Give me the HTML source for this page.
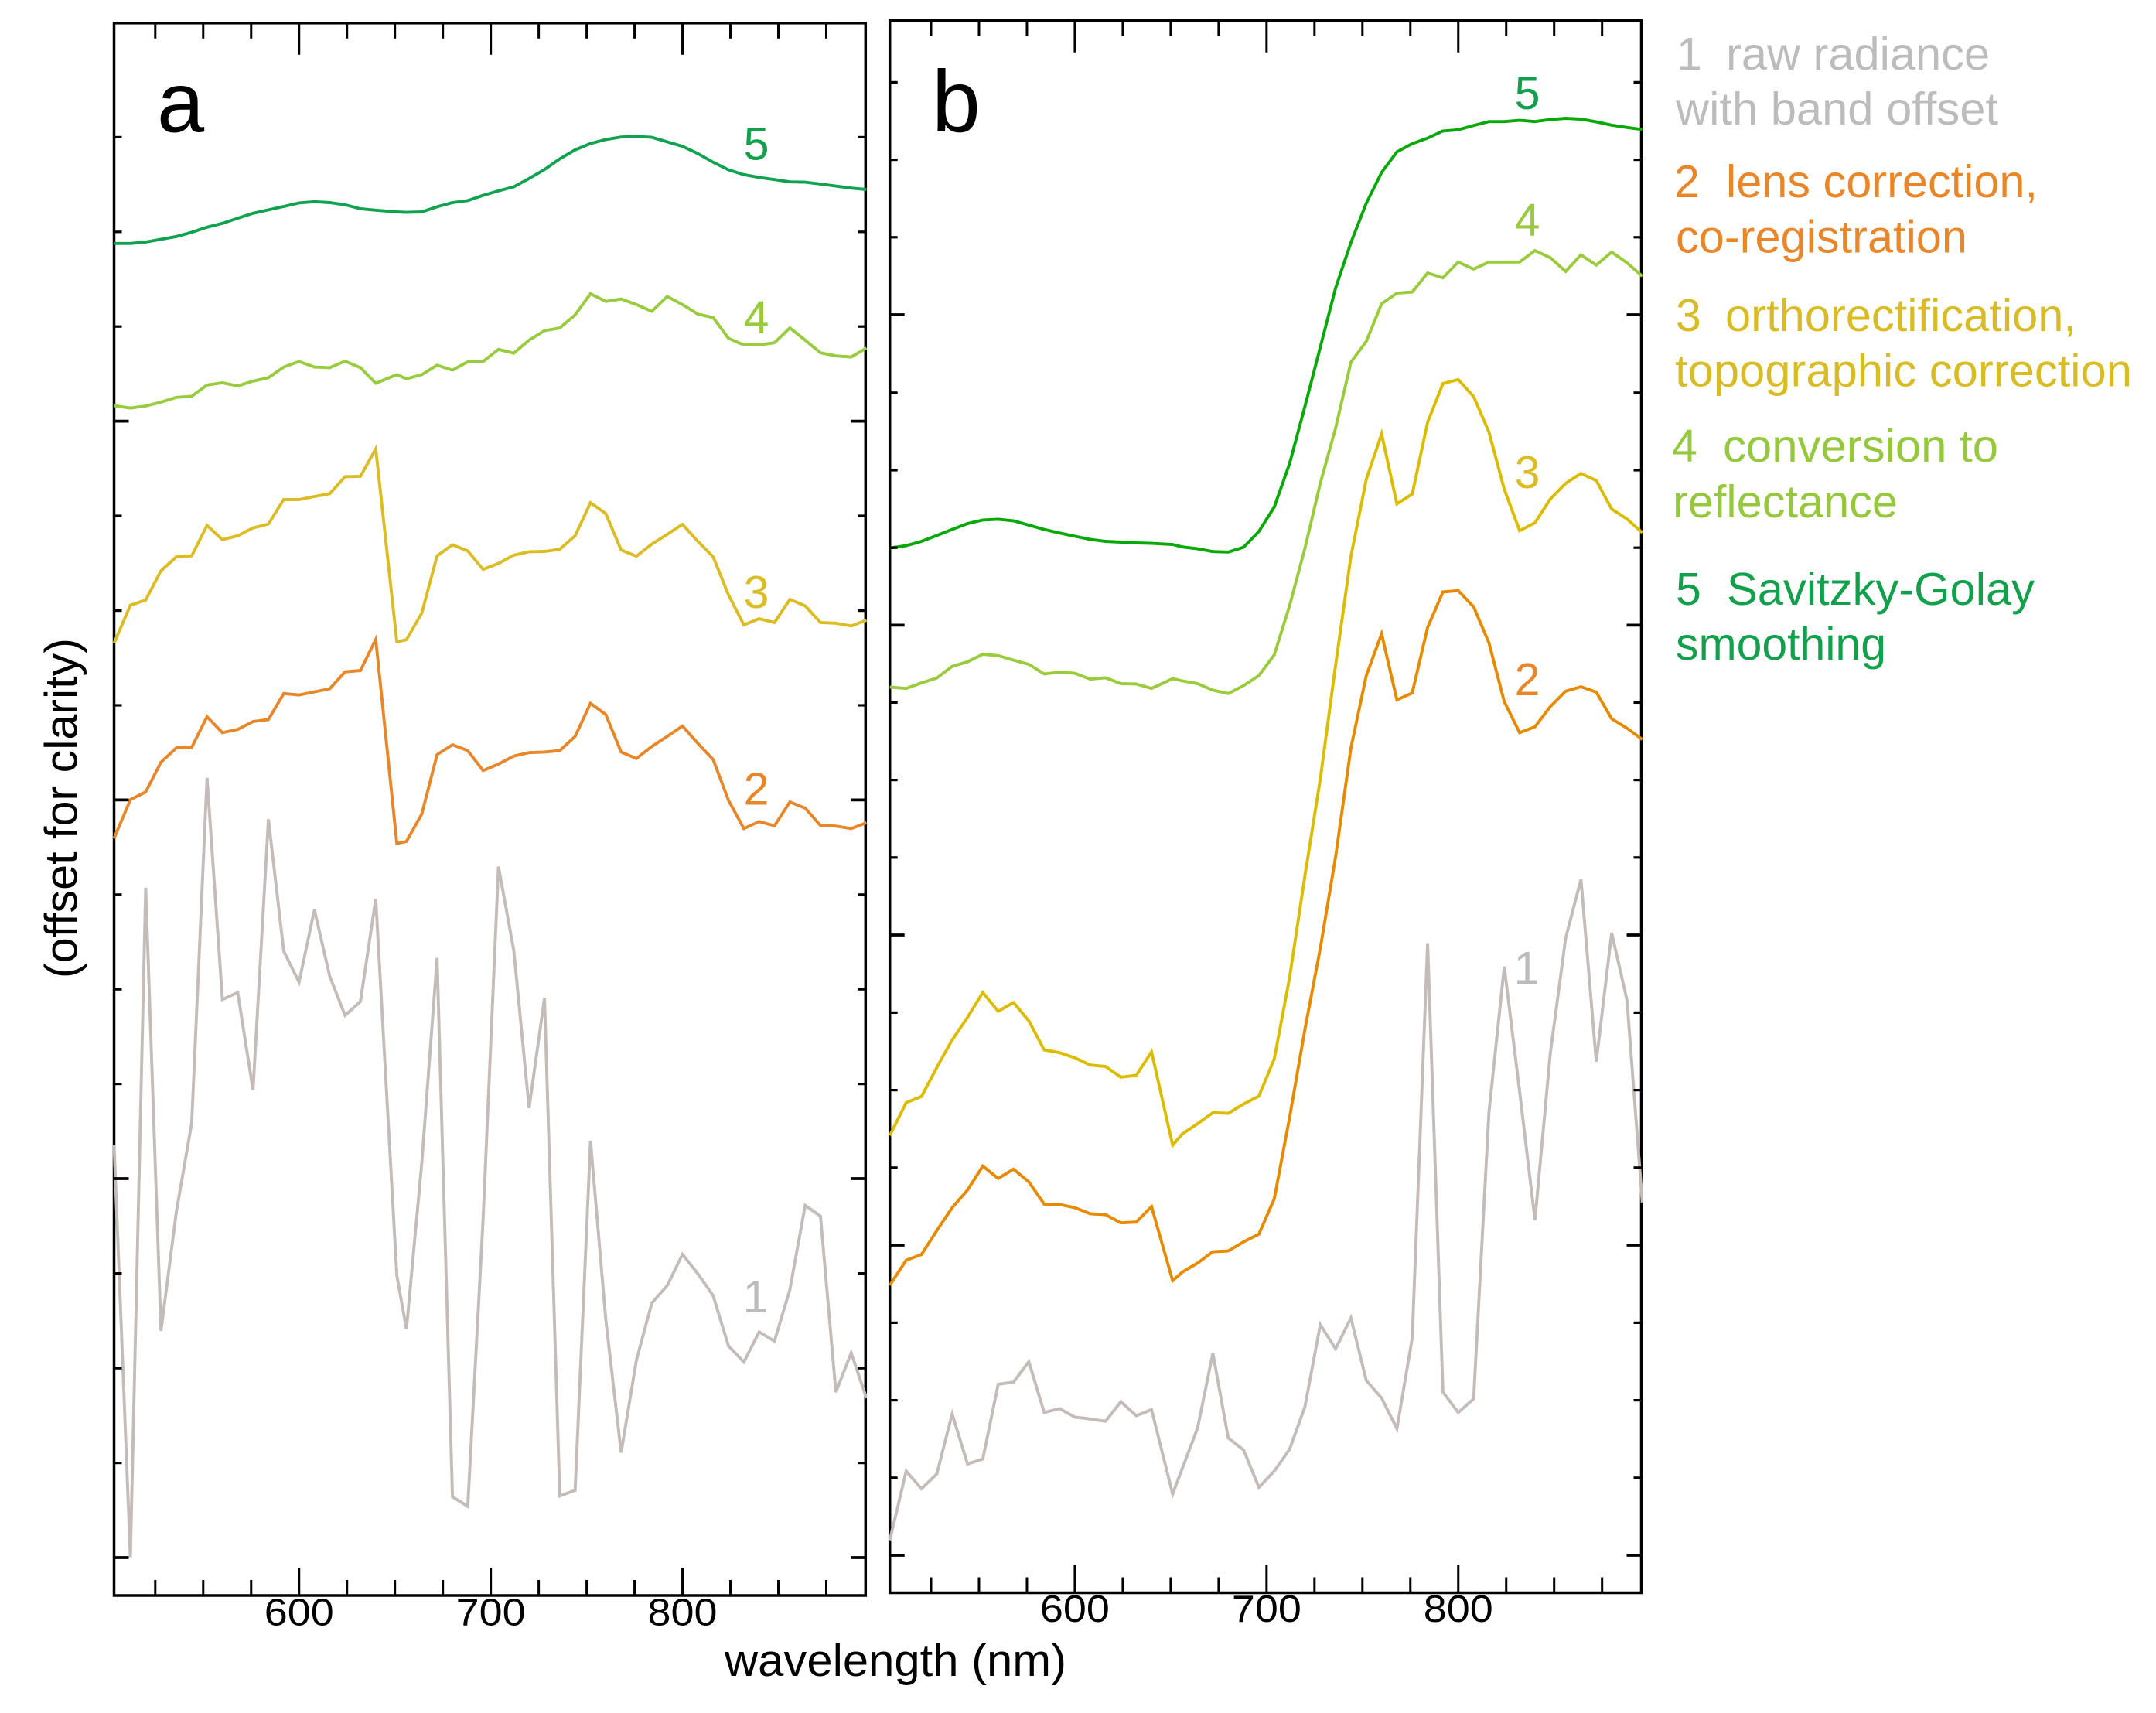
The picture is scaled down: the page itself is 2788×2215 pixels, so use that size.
<!DOCTYPE html>
<html lang="en">
<head>
<meta charset="utf-8">
<title>Spectra processing stages</title>
<style>
html,body{margin:0;padding:0;background:#fff;}
svg{display:block;}
text{font-family:"Liberation Sans",sans-serif;}
</style>
</head>
<body>
<svg id="chart" xmlns="http://www.w3.org/2000/svg" width="2788" height="2215" viewBox="0 0 2788 2215">
  <rect x="0" y="0" width="2788" height="2215" fill="#ffffff"/>
  <defs>
    <clipPath id="clip-a"><rect x="146" y="29.8" width="975" height="2033.2"/></clipPath>
    <clipPath id="clip-b"><rect x="1149" y="26.7" width="975" height="2032.8"/></clipPath>
  </defs>
  <g id="panel-a"></g>
  <g id="panel-b"></g>

  <text x="203" y="170.5" font-size="110" fill="#000">a</text>
  <text x="1205" y="170" font-size="113" fill="#000">b</text>

  <g font-size="59" text-anchor="middle">
    <text x="978" y="206.7" fill="#12a04c">5</text>
    <text x="978" y="431" fill="#98cb3e">4</text>
    <text x="978" y="786" fill="#dcbc24">3</text>
    <text x="978" y="1040.6" fill="#e8862a">2</text>
    <text x="977" y="1697" fill="#bcbcbc">1</text>
  </g>
  <g font-size="59" text-anchor="middle">
    <text x="1975" y="141" fill="#12a04c">5</text>
    <text x="1975" y="305" fill="#98cb3e">4</text>
    <text x="1975" y="631" fill="#dcbc24">3</text>
    <text x="1975" y="899" fill="#e8862a">2</text>
    <text x="1974" y="1272" fill="#bcbcbc">1</text>
  </g>

  <text x="937" y="2167" font-size="58" textLength="442" lengthAdjust="spacingAndGlyphs" fill="#000">wavelength (nm)</text>
  <text transform="translate(99.3 1265) rotate(-90)" x="0" y="0" font-size="59" textLength="440" lengthAdjust="spacingAndGlyphs" fill="#000">(offset for clarity)</text>

  <g font-size="59">
    <g fill="#bcbcbc">
      <text x="2168" y="90">1</text>
      <text x="2232" y="90" textLength="341" lengthAdjust="spacingAndGlyphs">raw radiance</text>
      <text x="2167" y="161" textLength="417" lengthAdjust="spacingAndGlyphs">with band offset</text>
    </g>
    <g fill="#e8862a">
      <text x="2165" y="255">2</text>
      <text x="2232" y="255" textLength="403" lengthAdjust="spacingAndGlyphs">lens correction,</text>
      <text x="2167" y="326.5" textLength="377" lengthAdjust="spacingAndGlyphs">co-registration</text>
    </g>
    <g fill="#d9bc25">
      <text x="2167" y="428">3</text>
      <text x="2231" y="428" textLength="454" lengthAdjust="spacingAndGlyphs">orthorectification,</text>
      <text x="2166" y="499.5" textLength="591" lengthAdjust="spacingAndGlyphs">topographic correction</text>
    </g>
    <g fill="#95c83d">
      <text x="2162" y="597">4</text>
      <text x="2228" y="597" textLength="356" lengthAdjust="spacingAndGlyphs">conversion to</text>
      <text x="2163" y="669" textLength="291" lengthAdjust="spacingAndGlyphs">reflectance</text>
    </g>
    <g fill="#12a04c">
      <text x="2167" y="782">5</text>
      <text x="2233" y="782" textLength="398" lengthAdjust="spacingAndGlyphs">Savitzky-Golay</text>
      <text x="2167" y="853" textLength="272" lengthAdjust="spacingAndGlyphs">smoothing</text>
    </g>
  </g>
</svg>
<script>
var wavelengths = [503.5,512,520,528,536,544,552,560,568,576,584,592,600,608,616,624,632,640,651,656,664,672,680,688,696,704,712,720,728,736,744,752,760,768,776,784,792,800,808,816,824,832,840,848,856,864,872,880,888,896];

var xMajorTicks = [600,700,800];
var xMinorTicks = [525,550,575,625,650,675,725,750,775,825,850,875];
var xTickLabels = ["600","700","800"];

var yMajorTicksA = [75.92,51.43,26.95,2.45];
var yMinorTicksA = [8.57,14.69,20.82,33.07,39.19,45.31,57.55,63.67,69.8,82.04,88.16,94.28];
var yMajorTicksB = [82.8,62.73,42.7,22.65,2.6];
var yMinorTicksB = [7.61,12.62,17.63,27.66,32.67,37.68,47.71,52.72,57.73,67.74,72.75,77.76,87.81,92.82,97.83];

var panelA1 = [29.12,2.48,45.76,17.11,24.83,30.55,52.86,38.53,38.98,32.68,50.18,41.66,39.65,44.33,40.03,37.5,38.4,45.03,20.67,17.22,27.95,41.21,6.38,5.76,24.31,47.12,41.7,31.51,38.62,6.43,6.8,29.38,17.82,9.24,15.22,18.91,20.03,22.05,20.8,19.38,16.13,15.09,17.04,16.44,19.77,25.22,24.52,13.14,15.68,12.75];
var panelA2 = [48.95,51.45,51.95,53.87,54.8,54.83,56.81,55.78,55.99,56.5,56.63,58.31,58.22,58.42,58.62,59.71,59.8,61.81,48.62,48.75,50.52,54.36,55,54.62,53.33,53.75,54.27,54.49,54.53,54.62,55.54,57.68,56.95,54.53,54.11,54.89,55.54,56.21,55.09,54.04,51.41,49.58,50.03,49.76,51.3,50.9,49.78,49.74,49.58,49.96];
var panelA3 = [61.57,64.02,64.36,66.25,67.15,67.21,69.18,68.26,68.51,69.02,69.27,70.85,70.85,71.05,71.23,72.33,72.35,74.13,61.65,61.79,63.51,67.21,67.93,67.53,66.34,66.72,67.26,67.48,67.5,67.64,68.51,70.65,69.94,67.59,67.19,67.97,68.6,69.25,68.15,67.15,64.69,62.75,63.15,62.9,64.4,63.98,62.9,62.86,62.68,63.06];
var panelA4 = [76.92,76.77,76.9,77.15,77.46,77.53,78.26,78.4,78.2,78.51,78.73,79.42,79.78,79.42,79.38,79.8,79.38,78.37,78.93,78.66,78.93,79.54,79.22,79.76,79.78,80.56,80.32,81.16,81.77,81.95,82.79,84.16,83.66,83.82,83.46,83.02,83.98,83.46,82.84,82.62,81.28,80.85,80.85,80.99,81.95,81.16,80.34,80.14,80.07,80.65];
var panelA5 = [87.41,87.41,87.5,87.68,87.86,88.13,88.46,88.71,89.04,89.36,89.58,89.8,90.03,90.11,90.05,89.91,89.65,89.56,89.45,89.42,89.45,89.78,90.05,90.18,90.52,90.81,91.07,91.61,92.19,92.88,93.46,93.87,94.13,94.29,94.33,94.27,93.98,93.69,93.22,92.66,92.17,91.86,91.68,91.54,91.39,91.37,91.25,91.12,90.99,90.9];

var panelB1 = [3.57,8.04,6.9,7.86,11.73,8.5,8.82,13.65,13.79,15.11,11.83,12.08,11.53,11.41,11.26,12.53,11.62,12.01,6.56,8.2,10.82,15.66,10.18,9.41,6.99,8.04,9.45,12.19,17.5,15.95,17.94,13.9,12.76,10.78,16.64,42.17,13.15,11.83,12.71,31.23,40.65,32.57,24.27,35.03,42.5,46.3,34.51,42.84,38.49,25.41];
var panelB2 = [20.06,21.67,22.04,23.59,25.07,26.21,27.76,26.96,27.56,26.74,25.3,25.28,25.07,24.68,24.62,24.09,24.14,25.14,20.35,20.9,21.49,22.22,22.27,22.86,23.36,25.64,30.9,36.59,41.83,47.75,54.78,59.47,62.17,57.9,58.35,62.59,64.88,64.96,63.92,61.59,57.79,55.78,56.16,57.46,58.46,58.75,58.4,56.68,56.07,55.34];
var panelB3 = [29.74,31.86,32.26,34.13,35.92,37.37,38.98,37.77,38.33,37.15,35.27,35.09,34.76,34.29,34.2,33.51,33.62,35.14,29.11,29.83,30.5,31.21,31.17,31.77,32.28,34.69,39.94,46.52,52.77,60.14,67.18,72.16,75.09,70.57,71.21,75.85,78.35,78.61,77.51,75.22,71.52,68.84,69.35,70.88,71.9,72.54,72.08,70.24,69.6,68.71];
var panelB4 = [58.73,58.64,59,59.31,60.07,60.36,60.85,60.76,60.47,60.2,59.58,59.69,59.62,59.24,59.33,58.95,58.93,58.64,59.27,59.13,58.95,58.53,58.31,58.82,59.47,60.81,63.99,67.69,71.9,75.47,79.73,81.08,83.51,84.2,84.27,85.5,85.19,86.21,85.75,86.21,86.21,86.21,86.95,86.49,85.6,86.67,86.01,86.85,86.16,85.29];
var panelB5 = [67.72,67.87,68.15,68.53,68.92,69.3,69.53,69.58,69.48,69.2,68.92,68.69,68.48,68.28,68.15,68.1,68.05,68.02,67.95,67.79,67.67,67.49,67.46,67.77,68.79,70.37,73.18,76.87,80.7,84.53,87.46,90.01,92,93.33,93.86,94.22,94.68,94.76,95.04,95.29,95.29,95.37,95.29,95.42,95.5,95.45,95.27,95.06,94.91,94.78];

var SVG_NS = "http://www.w3.org/2000/svg";

function linearScale(d0, d1, r0, r1) {
  return function (v) { return r0 + (v - d0) * (r1 - r0) / (d1 - d0); };
}

function addLine(parent, name, x1, y1, x2, y2, width) {
  var el = document.createElementNS(SVG_NS, "line");
  
  
  el.setAttribute("x1", x1);
  el.setAttribute("y1", y1);
  el.setAttribute("x2", x2);
  el.setAttribute("y2", y2);
  el.setAttribute("stroke", "#000");
  el.setAttribute("stroke-width", width);
  parent.appendChild(el);
}

function addSeries(parent, name, values, color, sx, sy, clipId) {
  var pts = [];
  for (var i = 0; i < values.length; i++) {
    pts.push(sx(wavelengths[i]).toFixed(1) + "," + sy(values[i]).toFixed(1));
  }
  var el = document.createElementNS(SVG_NS, "polyline");
  
  
  el.setAttribute("points", pts.join(" "));
  el.setAttribute("fill", "none");
  el.setAttribute("stroke", color);
  el.setAttribute("stroke-width", "3.9");
  el.setAttribute("stroke-linejoin", "miter");
  el.setAttribute("clip-path", "url(#" + clipId + ")");
  parent.appendChild(el);
}

function drawPanel(cfg) {
  var g = document.getElementById(cfg.id);
  var L = cfg.left, R = cfg.right, T = cfg.top, B = cfg.bottom;
  var sx = linearScale(503.5, 895.5, L, R);
  var sy = linearScale(cfg.yMin, cfg.yMax, B, T);

  var frame = document.createElementNS(SVG_NS, "rect");
  
  
  frame.setAttribute("x", L);
  frame.setAttribute("y", T);
  frame.setAttribute("width", R - L);
  frame.setAttribute("height", B - T);
  frame.setAttribute("fill", "none");
  frame.setAttribute("stroke", "#000");
  frame.setAttribute("stroke-width", "3.5");
  g.appendChild(frame);

  for (var s = 0; s < cfg.series.length; s++) {
    addSeries(g, cfg.series[s].name, cfg.series[s].values, cfg.series[s].color, sx, sy, cfg.clip);
  }

  var i, x, y;
  for (i = 0; i < xMinorTicks.length; i++) {
    x = sx(xMinorTicks[i]);
    addLine(g, "x-minor-tick-top", x, T, x, T + 20, 3);
    addLine(g, "x-minor-tick-bottom", x, B, x, B - 20, 3);
  }
  for (i = 0; i < xMajorTicks.length; i++) {
    x = sx(xMajorTicks[i]);
    addLine(g, "x-major-tick-top", x, T, x, T + 41, 3);
    addLine(g, "x-major-tick-bottom", x, B, x, B - 36, 3);
    var t = document.createElementNS(SVG_NS, "text");
    
    
    t.setAttribute("x", x - 45);
    t.setAttribute("y", cfg.labelY);
    t.setAttribute("font-size", "49");
    t.setAttribute("textLength", "90");
    t.setAttribute("lengthAdjust", "spacingAndGlyphs");
    t.setAttribute("fill", "#000");
    t.textContent = xTickLabels[i];
    g.appendChild(t);
  }
  for (i = 0; i < cfg.yMinor.length; i++) {
    y = sy(cfg.yMinor[i]);
    addLine(g, "y-minor-tick-left", L, y, L + 10, y, 3.2);
    addLine(g, "y-minor-tick-right", R, y, R - 10, y, 3.2);
  }
  for (i = 0; i < cfg.yMajor.length; i++) {
    y = sy(cfg.yMajor[i]);
    addLine(g, "y-major-tick-left", L, y, L + 19, y, 3.8);
    addLine(g, "y-major-tick-right", R, y, R - 19, y, 3.8);
  }
}

var grey = "#c4bcb9";

drawPanel({
  id: "panel-a", clip: "clip-a",
  left: 147.5, right: 1119.3, top: 29.8, bottom: 2063,
  yMin: 0, yMax: 101.66, labelY: 2101.5,
  yMajor: yMajorTicksA, yMinor: yMinorTicksA,
  series: [
    { name: "series-a-1-raw-radiance", values: panelA1, color: grey },
    { name: "series-a-2-lens-correction", values: panelA2, color: "#e8862a" },
    { name: "series-a-3-orthorectification", values: panelA3, color: "#dcbc24" },
    { name: "series-a-4-reflectance", values: panelA4, color: "#98cb3e" },
    { name: "series-a-5-smoothing", values: panelA5, color: "#11a250" }
  ]
});

drawPanel({
  id: "panel-b", clip: "clip-b",
  left: 1150.7, right: 2122.5, top: 26.7, bottom: 2059.5,
  yMin: 0.175, yMax: 101.815, labelY: 2097,
  yMajor: yMajorTicksB, yMinor: yMinorTicksB,
  series: [
    { name: "series-b-1-raw-radiance", values: panelB1, color: grey },
    { name: "series-b-2-lens-correction", values: panelB2, color: "#e68a00" },
    { name: "series-b-3-orthorectification", values: panelB3, color: "#dcbc00" },
    { name: "series-b-4-reflectance", values: panelB4, color: "#9acb3c" },
    { name: "series-b-5-smoothing", values: panelB5, color: "#08a808" }
  ]
});
</script>
</body>
</html>
